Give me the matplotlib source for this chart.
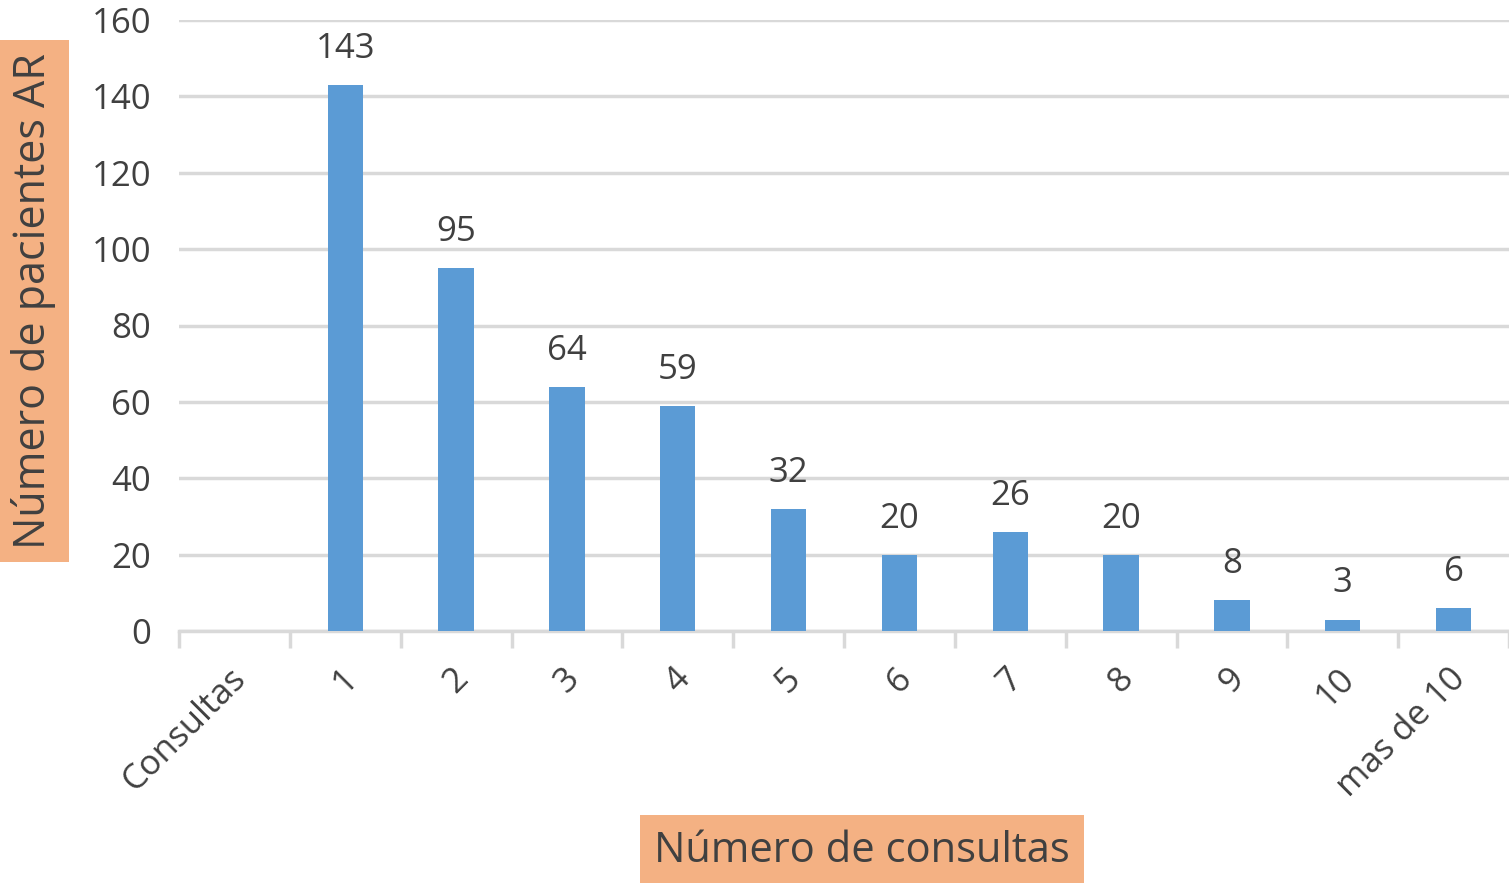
import matplotlib
matplotlib.use("Agg")
import matplotlib.pyplot as plt
import matplotlib.transforms as mtransforms

categories = ["Consultas", "1", "2", "3", "4", "5", "6", "7", "8", "9", "10", "mas de 10"]
values = [None, 143, 95, 64, 59, 32, 20, 26, 20, 8, 3, 6]
y_ticks = [0, 20, 40, 60, 80, 100, 120, 140, 160]

plt.rcParams['font.family'] = ['Open Sans', 'DejaVu Sans']
text_color = "#404040"
bar_color = "#5B9BD5"
grid_color = "#D9D9D9"
box_color = "#F4B183"

W, H = 1509, 883
fig = plt.figure(figsize=(W/100, H/100), dpi=100)
ax = fig.add_axes([179/W, 1-631/H, (1509-179)/W, (631-20)/H])

xs = list(range(len(categories)))
for x, v in zip(xs, values):
    if v is None:
        continue
    ax.bar(x, v, width=0.32, color=bar_color, zorder=3)
    ax.text(x, v + 5.0, str(v), ha='center', va='bottom', fontsize=25, color=text_color)

ax.set_xlim(-0.5, len(categories) - 0.5)
ax.set_ylim(0, 160)
ax.set_yticks(y_ticks)
ax.yaxis.grid(True, color=grid_color, linewidth=2.5, zorder=0)
ax.set_axisbelow(True)
for s in ["left", "right", "top"]:
    ax.spines[s].set_visible(False)
ax.spines["bottom"].set_color(grid_color)
ax.spines["bottom"].set_linewidth(2.5)

ax.tick_params(axis='y', length=0, labelsize=25, labelcolor=text_color, pad=20)
ax.set_xticks(xs)
ax.set_xticklabels(categories, rotation=45, ha='right', va='top', rotation_mode='anchor',
                   fontsize=25, color=text_color)
ax.tick_params(axis='x', length=0, pad=22)
# boundary tick marks
ax.set_xticks([x - 0.5 for x in xs] + [len(categories) - 0.5], minor=True)
ax.tick_params(axis='x', which='minor', length=12, width=2.5, color=grid_color)
offset = mtransforms.ScaledTranslation(-5/100, 0, fig.dpi_scale_trans)
for lbl in ax.get_xticklabels():
    lbl.set_transform(lbl.get_transform() + offset)

fig.text(862/W, 1-851/H, "Número de consultas", ha='center', va='center', fontsize=30,
         color=text_color,
         bbox=dict(boxstyle='square,pad=0.35', facecolor=box_color, edgecolor='none'))
fig.text(34/W, 1-301/H, "Número de pacientes AR", ha='center', va='center', rotation=90,
         fontsize=31, color=text_color,
         bbox=dict(boxstyle='square,pad=0.3', facecolor=box_color, edgecolor='none'))

fig.savefig("out.png", dpi=100)
